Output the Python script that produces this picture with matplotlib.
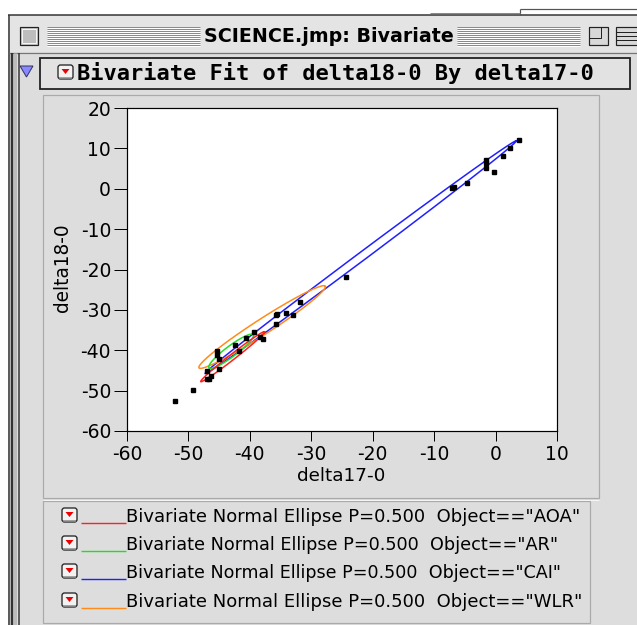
import numpy as np
import matplotlib
matplotlib.use("Agg")
import matplotlib.pyplot as plt
from matplotlib.patches import Rectangle, Polygon, FancyBboxPatch

# ---------------- data ----------------
delta17 = [3.8, 2.4, 1.2, -1.6, -1.5, -1.6, -0.3, -4.6, -6.8, -7.1,
           -24.4, -31.8, -35.6, -35.8, -34.1, -33.0, -35.8, -39.4, -37.8,
           -38.3, -40.7, -42.4, -41.8, -45.3, -45.3, -45.1, -45.1, -46.9,
           -47.0, -46.7, -46.4, -49.3, -52.2]
delta18 = [12.0, 10.0, 8.1, 7.1, 6.5, 5.1, 4.1, 1.5, 0.5, 0.1,
           -21.8, -28.1, -31.0, -31.2, -30.8, -31.2, -33.5, -35.6, -37.1,
           -36.8, -37.0, -38.6, -40.1, -40.2, -41.3, -42.2, -44.7, -45.1,
           -47.0, -47.2, -46.4, -49.8, -52.6]

objects = ["AOA", "AR", "CAI", "WLR"]
ell_mean_x = [-42.8, -43.05, -21.95, -38.0]
ell_mean_y = [-41.6, -40.25, -16.95, -34.25]
ell_sd_x = [4.42, 3.10, 21.53, 8.75]
ell_sd_y = [5.27, 3.61, 24.50, 8.70]
ell_corr = [0.990, 0.92, 0.999, 0.975]
ell_prob = 0.5
ell_colors = ["#ff2020", "#22dd22", "#2020ff", "#ff8c1a"]

x_ticks = [-60, -50, -40, -30, -20, -10, 0, 10]
y_ticks = [-60, -50, -40, -30, -20, -10, 0, 10, 20]

title_text = "SCIENCE.jmp: Bivariate"
header_text = "Bivariate Fit of delta18-0 By delta17-0"
x_label = "delta17-0"
y_label = "delta18-0"

# ---------------- figure ----------------
W, H = 637, 625
PT = 0.72  # points per pixel at dpi 100
fig = plt.figure(figsize=(W / 100, H / 100), dpi=100)
fig.patch.set_facecolor("white")
bg = fig.add_axes([0, 0, 1, 1])
bg.set_xlim(0, W)
bg.set_ylim(H, 0)
bg.axis("off")
renderer = fig.canvas.get_renderer()

GREY = "#dddddd"
DARK = "#222222"


def rect(x0, y0, x1, y1, fc="none", ec="none", lw=1.0, z=1):
    bg.add_patch(Rectangle((x0, y0), x1 - x0, y1 - y0, facecolor=fc,
                           edgecolor=ec, linewidth=lw * PT, zorder=z))


def hline(x0, x1, y, c, lw=1.0, z=2):
    bg.plot([x0, x1], [y, y], color=c, lw=lw * PT, zorder=z,
            solid_capstyle="butt")


def vline(x, y0, y1, c, lw=1.0, z=2):
    bg.plot([x, x], [y0, y1], color=c, lw=lw * PT, zorder=z,
            solid_capstyle="butt")


def fit_text(x, y, s, width, ha="left", va="center", weight="normal",
             size=12, z=5, color="black", family=None):
    kw = {}
    if family:
        kw["family"] = family
    t = bg.text(x, y, s, ha=ha, va=va, fontsize=size, fontweight=weight,
                color=color, zorder=z, **kw)
    bb = t.get_window_extent(renderer=renderer)
    t.set_fontsize(size * width / bb.width)
    return t


def popup_icon(x0, y0, w=15, h=14):
    bg.add_patch(FancyBboxPatch((x0, y0), w, h,
                                boxstyle="round,pad=0,rounding_size=2.5",
                                facecolor="#f2f2f2", edgecolor=DARK,
                                linewidth=1.3 * PT, zorder=6))
    hline(x0 + 1, x0 + w - 1, y0 + h - 1.5, "#888888", lw=1.5, z=7)
    cx, cy = x0 + w / 2, y0 + h / 2 - 0.5
    bg.add_patch(Polygon([[cx - 4, cy - 2.5], [cx + 4, cy - 2.5], [cx, cy + 2.5]],
                         closed=True, facecolor="#ee0000", edgecolor="none",
                         zorder=7))


# background window
rect(8, 15, W + 2, H + 2, fc=GREY, ec="none", z=0)
hline(8, W, 15, "#333333", lw=1.5)
vline(8.5, 15, H, "#333333", lw=1.5)
hline(520, W, 9, "#555555", lw=1.2)
vline(520, 9, 15, "#555555", lw=1.2)
hline(430, 520, 12.5, "#888888", lw=1)

# title bar
rect(9, 16, W, 52, fc="#e4e4e4", ec="none", z=1)
for yy in range(27, 46, 2):
    hline(47, 200, yy, "#8a8a8a", lw=1)
    hline(47, 200, yy + 1, "#ffffff", lw=1)
    hline(457, 580, yy, "#8a8a8a", lw=1)
    hline(457, 580, yy + 1, "#ffffff", lw=1)
rect(20, 27, 38, 45, fc="#c8c8c8", ec=DARK, lw=1.2, z=3)
rect(22, 29, 36, 43, fc="#bdbdbd", ec="#f4f4f4", lw=1.0, z=3)
fit_text(329, 36.5, title_text, 248, ha="center", weight="bold", size=13)
rect(589, 27, 608, 45, fc="#d8d8d8", ec=DARK, lw=1.2, z=3)
rect(589, 27, 601, 38, fc="none", ec=DARK, lw=1.0, z=3)
rect(616, 27, W + 2, 45, fc="#d8d8d8", ec=DARK, lw=1.2, z=3)
for yy in (32, 36, 40):
    hline(616, W, yy, DARK, lw=1.0, z=4)
hline(9, W, 52.5, "#777777", lw=1.2)

# left window border
vline(11.5, 53, H, "#333333", lw=2.5)
vline(15, 53, H, "#bbbbbb", lw=3)
vline(19, 53, H, "#333333", lw=1.5)

# outline header
bg.add_patch(Polygon([[20, 66], [33, 66], [26.5, 77]], closed=True,
                     facecolor="#8888ff", edgecolor="#333366",
                     linewidth=1 * PT, zorder=4))
rect(40, 58, 630, 89, fc="#e2e2e2", ec=DARK, lw=1.8, z=3)
popup_icon(58, 65)
fit_text(77, 73.5, header_text, 520, weight="bold", size=14,
         family="DejaVu Sans Mono")

# report panel and legend box
rect(43, 95, 599, 498, fc=GREY, ec="#aaaaaa", lw=1.2, z=1)
hline(43, 599, 499.5, "#f4f4f4", lw=1)
rect(43, 501, 590, 623, fc=GREY, ec="#aaaaaa", lw=1.2, z=1)

legend_rows = [523, 551, 579, 608]
for i, obj in enumerate(objects):
    yb = legend_rows[i]
    popup_icon(62, yb - 15)
    hline(81, 126, yb, ell_colors[i], lw=1.4, z=6)
    lbl = 'Bivariate Normal Ellipse P=%.3f  Object=="%s"' % (ell_prob, obj)
    width = {"AOA": 452, "AR": 429, "CAI": 432, "WLR": 455}[obj]
    fit_text(126, yb - 6, lbl, width, size=12, z=6)

# ---------------- plot axes ----------------
ax = fig.add_axes([127 / W, 1 - 431 / H, 430 / W, 323 / H], zorder=5)
ax.set_facecolor("white")
ax.set_xlim(-60, 10)
ax.set_ylim(-60, 20)

c = np.sqrt(-2.0 * np.log(1.0 - ell_prob))
t = np.linspace(0, 2 * np.pi, 500)
circle = np.vstack([np.cos(t), np.sin(t)])
draw_z = {"CAI": 2.0, "WLR": 2.2, "AR": 2.4, "AOA": 2.6}
for i, obj in enumerate(objects):
    sx, sy, r = ell_sd_x[i], ell_sd_y[i], ell_corr[i]
    cov = np.array([[sx * sx, r * sx * sy], [r * sx * sy, sy * sy]])
    L = np.linalg.cholesky(cov)
    pts = c * (L @ circle)
    ax.plot(ell_mean_x[i] + pts[0], ell_mean_y[i] + pts[1],
            color=ell_colors[i], lw=1.1, zorder=draw_z[obj])

ax.plot(delta17, delta18, linestyle="none", marker="s", markersize=2.3,
        color="black", zorder=4)

ax.set_xticks(x_ticks)
ax.set_yticks(y_ticks)
ax.set_xticklabels([str(v) for v in x_ticks])
ax.set_yticklabels([str(v) for v in y_ticks])
ax.tick_params(axis="x", direction="out", length=10 * PT, width=1.0 * PT,
               pad=4 * PT, labelsize=13.5, colors="black")
ax.tick_params(axis="y", direction="out", length=13 * PT, width=1.0 * PT,
               pad=3 * PT, labelsize=13.5, colors="black")
for s in ax.spines.values():
    s.set_color("black")
    s.set_linewidth(1.2 * PT)

fit_text(341, 476, x_label, 88, ha="center", size=11)
ty = bg.text(62.5, 268, y_label, ha="center", va="center", rotation=90,
             fontsize=11, zorder=5)
bb = ty.get_window_extent(renderer=renderer)
ty.set_fontsize(11 * 89 / bb.height)

fig.savefig("out.png", dpi=100, facecolor=fig.get_facecolor())
